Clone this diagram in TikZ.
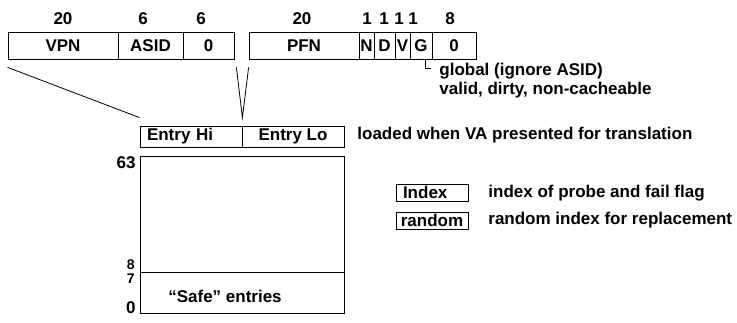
\documentclass[tikz,border=0pt]{standalone}
\usepackage{fontspec}
\setmainfont{Liberation Sans}
\begin{document}
\begin{tikzpicture}[x=1pt,y=-1pt,line width=0.8pt]
\tikzstyle{every node}+=[inner sep=0pt,font=\fontsize{17}{19}\selectfont\bfseries]
\tikzstyle{field}=[draw,minimum height=27pt]
\tikzstyle{cell}=[draw,minimum width=102pt,minimum height=21pt]
\tikzstyle{reg}=[draw,minimum width=72pt,minimum height=17pt]
\tikzstyle{row}=[anchor=east,font=\fontsize{14}{15}\selectfont\bfseries]
\useasboundingbox (0,0) rectangle (737,323);
% Entry Hi fields
\node [field,minimum width=110pt] (vpn) at (63,45.5) {VPN};
\node [field,minimum width=65pt] (asid) at (150.5,45.5) {ASID};
\node [field,minimum width=51pt] (zhi) at (208.5,45.5) {0};
\node (bvpn) at (63,19) {20};
\node (basid) at (143,19) {6};
\node (bzhi) at (201,19) {6};
% Entry Lo fields
\node [field,minimum width=110pt] (pfn) at (304,45.5) {PFN};
\node [field,minimum width=15pt] (n) at (366.5,45.5) {N};
\node [field,minimum width=21pt] (d) at (384.5,45.5) {D};
\node [field,minimum width=15pt] (v) at (402.5,45.5) {V};
\node [field,minimum width=22pt] (g) at (421,45.5) {G};
\node [field,minimum width=44pt] (zlo) at (454,45.5) {0};
\node (bpfn) at (302,19) {20};
\node (bn) at (367,19) {1};
\node (bd) at (384,19) {1};
\node (bv) at (399,19) {1};
\node (bg) at (413,19) {1};
\node (bzlo) at (450,19) {8};
\node [anchor=west] (glob) at (439,71) {global (ignore ASID)};
\node [anchor=west] (flags) at (439,90) {valid, dirty, non-cacheable};
\draw ([xshift=4pt]g.south) -- ++(0,9) -- ++(6,0);
% registers
\node [cell,text width=88pt,inner xsep=7pt,align=left] (hi) at (191,136.5) {Entry Hi};
\node [cell] (lo) at (293,136.5) {Entry Lo};
\node [anchor=west] (load) at (357,135) {loaded when VA presented for translation};
\draw ([yshift=-8pt]vpn.south west) -- ([yshift=8pt]hi.north west);
\draw ([xshift=2pt,yshift=-8pt]zhi.south east) -- ([yshift=8pt]hi.north east)
  -- ([yshift=-8pt]pfn.south west);
% TLB
\node [draw,minimum width=204pt,minimum height=116pt] (tlb) at (242,214) {};
\node [draw,minimum width=204pt,minimum height=41pt] (safe) at (242,292.5) {};
\node (safetxt) at (225,296) {“Safe” entries};
\node [anchor=east] (r63) at (136,163) {63};
\node [row] (r8) at (135,264.5) {8};
\node [row] (r7) at (135,279) {7};
\node [anchor=east] (r0) at (136,308) {0};
% Index and Random
\node [reg,text width=58pt,inner xsep=7pt,align=left] (index) at (432,192.5) {Index};
\node [reg] (random) at (432,220.5) {random};
\node [anchor=west] (idxtxt) at (488,193) {index of probe and fail flag};
\node [anchor=west] (rndtxt) at (488,220) {random index for replacement};
\end{tikzpicture}
\end{document}
